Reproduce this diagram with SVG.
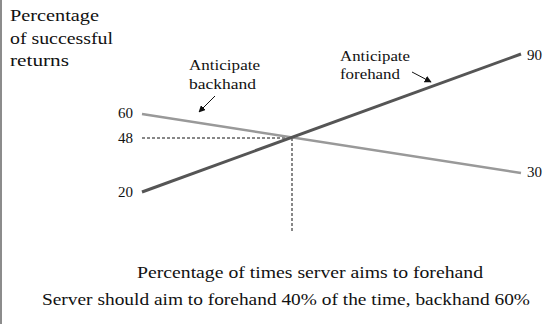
<svg xmlns="http://www.w3.org/2000/svg" width="545" height="324" viewBox="0 0 545 324">
  <style>
    text { font-family: "Liberation Serif", "Times New Roman", serif; fill: #111; }
    .title { font-size: 17px; }
    .lbl { font-size: 14px; }
    .tick { font-size: 15px; }
    .dash { stroke: #111; stroke-width: 1; stroke-dasharray: 3 2; fill: none; }
    .arrow { stroke: #111; stroke-width: 1; fill: none; marker-end: url(#head); }
  </style>
  <defs>
    <marker id="head" viewBox="0 0 10 10" refX="9" refY="5" markerWidth="7" markerHeight="7" orient="auto" markerUnits="userSpaceOnUse">
      <path d="M0,0 L10,5 L0,10 z" fill="#111"/>
    </marker>
  </defs>
  <rect width="545" height="324" fill="#fff"/>
  <line x1="1" y1="0" x2="1" y2="324" stroke="#666" stroke-width="1.5"/>

  <g id="y-axis-title">
    <text class="title" x="10" y="21" textLength="89" lengthAdjust="spacingAndGlyphs">Percentage</text>
    <text class="title" x="10" y="44" textLength="103" lengthAdjust="spacingAndGlyphs">of successful</text>
    <text class="title" x="10" y="66" textLength="59" lengthAdjust="spacingAndGlyphs">returns</text>
  </g>

  <g id="connectors">
    <line x1="142" y1="138" x2="292" y2="138" class="dash"/>
    <line x1="292" y1="138" x2="292" y2="231" class="dash"/>
    <line id="backhand-line" x1="142" y1="114" x2="521" y2="173" stroke="#999" stroke-width="2.5"/>
    <line id="forehand-line" x1="142" y1="192" x2="521" y2="54" stroke="#555" stroke-width="3"/>
    <line x1="215" y1="96" x2="199" y2="112" class="arrow"/>
    <line x1="412" y1="72" x2="431" y2="82" class="arrow"/>
  </g>

  <g id="ticks">
    <text class="tick" x="133" y="118" text-anchor="end">60</text>
    <text class="tick" x="133" y="143" text-anchor="end">48</text>
    <text class="tick" x="133" y="197" text-anchor="end">20</text>
    <text class="tick" x="527" y="60">90</text>
    <text class="tick" x="527" y="177">30</text>
  </g>

  <g id="label-backhand">
    <text class="lbl" x="189" y="70" textLength="71" lengthAdjust="spacingAndGlyphs">Anticipate</text>
    <text class="lbl" x="189" y="89" textLength="67" lengthAdjust="spacingAndGlyphs">backhand</text>
  </g>
  <g id="label-forehand">
    <text class="lbl" x="340" y="61" textLength="70" lengthAdjust="spacingAndGlyphs">Anticipate</text>
    <text class="lbl" x="340" y="79" textLength="60" lengthAdjust="spacingAndGlyphs">forehand</text>
  </g>

  <g id="x-axis-title">
    <text class="title" x="137" y="278" textLength="346" lengthAdjust="spacingAndGlyphs">Percentage of times server aims to forehand</text>
  </g>
  <g id="caption">
    <text class="title" x="42" y="305" textLength="488" lengthAdjust="spacingAndGlyphs">Server should aim to forehand 40% of the time, backhand 60%</text>
  </g>
</svg>
